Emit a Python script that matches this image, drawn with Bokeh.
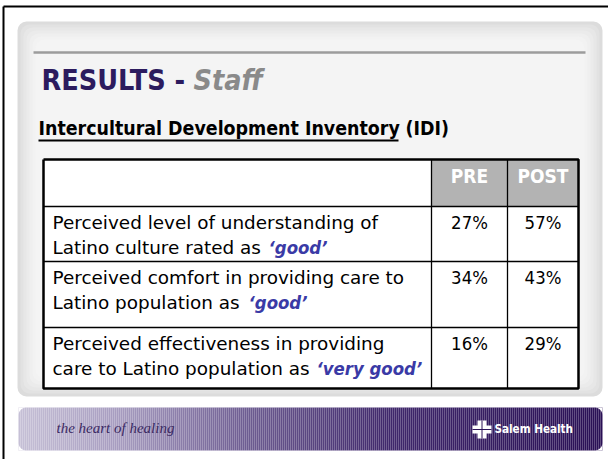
import math
from bokeh.plotting import figure
from bokeh.models import Range1d, BoxAnnotation
from bokeh.core.properties import value
from bokeh.embed import file_html
from bokeh.resources import INLINE

# ---------------- data ----------------
title_main = "RESULTS - "
title_sub = "Staff"
subtitle = "Intercultural Development Inventory"
subtitle_tail = "(IDI)"
columns = ["PRE", "POST"]
line1 = ["Perceived level of understanding of",
         "Perceived comfort in providing care to",
         "Perceived effectiveness in providing"]
line2 = ["Latino culture rated as",
         "Latino population as",
         "care to Latino population as"]
rating = ["\u2018good\u2019", "\u2018good\u2019", "\u2018very good\u2019"]
pre = [27, 34, 16]
post = [57, 43, 29]
footer_left = "the heart of healing"
footer_right = "Salem Health"

# ---------------- layout (pixel space of the slide) ----------------
FONT = "DejaVu Sans Condensed"
BODY = "DejaVu Sans"
col_x = [43, 431, 507, 578]          # table column edges
row_y = [159, 206, 261, 327, 388]    # table row edges
rating_x = [268, 248, 316]           # start of emphasised word per row


def base(y, size):
    """shift so that the text's alphabetic baseline lands on y"""
    return y - 0.4 * size


W, H = 608, 459
p = figure(width=W, height=H, x_range=Range1d(0, W), y_range=Range1d(H, 0),
           output_backend="svg", toolbar_location=None, min_border=0,
           x_axis_location=None, y_axis_location=None)
p.grid.visible = False
p.outline_line_color = None
p.background_fill_color = "white"
p.border_fill_color = "white"

# outer frame
p.line([3, 3], [459, 6], line_color="black", line_width=2)
p.line([3, 608], [6, 6], line_color="black", line_width=2)

# gray panel with soft vignette
shades = ["#dcdcdc", "#e2e2e2", "#e7e7e7", "#ebebeb", "#efefef", "#f2f2f2", "#f4f4f4"]
for i, c in enumerate(shades):
    ins = i * 3
    p.add_layout(BoxAnnotation(left=17 + ins, right=602 - ins, top=21 + ins, bottom=396 - ins,
                               fill_color=c, fill_alpha=1, line_color=None,
                               border_radius=9, level="underlay"))

# separator line
p.line([33, 585], [52, 52], line_color="#9c9c9c", line_width=2.5)

# title
TT = 28.5
p.text(x=[41], y=[base(91, TT)], text=[title_main], text_font=value(FONT), text_font_style="bold",
       text_font_size=f"{TT}px", text_color="#2c1b5e", text_baseline="alphabetic")
p.text(x=[193], y=[base(91, TT)], text=[title_sub], text_font=value(FONT),
       text_font_style="bold italic", text_font_size=f"{TT}px", text_color="#8a8a8a",
       text_baseline="alphabetic")

# subtitle
ST = 19.4
p.text(x=[38], y=[base(136, ST)], text=[subtitle], text_font=value(FONT), text_font_style="bold",
       text_font_size=f"{ST}px", text_color="black", text_baseline="alphabetic")
p.line([38, 398], [140, 140], line_color="black", line_width=2)
p.text(x=[405], y=[base(136, ST)], text=[subtitle_tail], text_font=value(FONT),
       text_font_style="bold", text_font_size=f"{ST}px", text_color="black",
       text_baseline="alphabetic")

# table background
p.quad(left=[col_x[0]], right=[col_x[3]], top=[row_y[0]], bottom=[row_y[4]],
       fill_color="white", line_color=None)
p.quad(left=col_x[1:3], right=col_x[2:4], top=[row_y[0]] * 2, bottom=[row_y[1]] * 2,
       fill_color="#b3b3b3", line_color=None)
for yy in row_y[1:4]:
    p.line([col_x[0], col_x[3]], [yy, yy], line_color="black", line_width=1.3)
for xx in col_x[1:3]:
    p.line([xx, xx], [row_y[0], row_y[4]], line_color="black", line_width=1.3)
p.line([col_x[0], col_x[3], col_x[3], col_x[0], col_x[0]],
       [row_y[0], row_y[0], row_y[4], row_y[4], row_y[0]], line_color="black", line_width=2.5)

# header labels
HT = 19
hx = [(col_x[1] + col_x[2]) / 2, (col_x[2] + col_x[3]) / 2]
p.text(x=hx, y=[base(183, HT)] * 2, text=columns, text_font=value(FONT), text_font_style="bold",
       text_font_size=f"{HT}px", text_color="white", text_align="center",
       text_baseline="alphabetic")

# rows
TS = 18.4
b1 = [base(row_y[i] + 23, TS) for i in range(1, 4)]
b2 = [b + 25 for b in b1]
p.text(x=[52] * 3, y=b1, text=line1, text_font=value(BODY), text_font_size=f"{TS}px",
       text_color="black", text_baseline="alphabetic")
p.text(x=[52] * 3, y=b2, text=line2, text_font=value(BODY), text_font_size=f"{TS}px",
       text_color="black", text_baseline="alphabetic")
p.text(x=rating_x, y=b2, text=rating, text_font=value(FONT), text_font_style="bold italic",
       text_font_size=f"{TS}px", text_color="#3a3aa6", text_baseline="alphabetic")
p.text(x=[hx[0]] * 3, y=b1, text=[f"{v}%" for v in pre], text_font=value(FONT),
       text_font_size=f"{TS}px", text_color="black", text_align="center",
       text_baseline="alphabetic")
p.text(x=[hx[1]] * 3, y=b1, text=[f"{v}%" for v in post], text_font=value(FONT),
       text_font_size=f"{TS}px", text_color="black", text_align="center",
       text_baseline="alphabetic")

# footer bar with horizontal gradient
stops = [(18, (0xc6, 0xc0, 0xd6)), (120, (0xa6, 0x9b, 0xbf)), (250, (0x6c, 0x5b, 0x90)),
         (390, (0x3f, 0x27, 0x6b)), (602, (0x2a, 0x10, 0x55))]


def grad(x):
    for (x0, c0), (x1, c1) in zip(stops[:-1], stops[1:]):
        if x0 <= x <= x1:
            t = (x - x0) / (x1 - x0)
            return "#%02x%02x%02x" % tuple(int(round(a + (b - a) * t)) for a, b in zip(c0, c1))
    return "#%02x%02x%02x" % stops[-1][1]


FL, FR, FT, FB = 18, 602, 407, 450
fl = list(range(FL, FR, 2))
p.quad(left=fl, right=[v + 2 for v in fl], top=[FT] * len(fl), bottom=[FB] * len(fl),
       fill_color=[grad(v + 1) for v in fl], line_color=None)
R = 8
for cx, cy, sx, sy in [(FL, FT, 1, 1), (FR, FT, -1, 1), (FL, FB, 1, -1), (FR, FB, -1, -1)]:
    ox, oy = cx + sx * R, cy + sy * R
    xs, ys = [cx], [cy]
    for k in range(0, 11):
        a = math.pi / 2 * k / 10
        xs.append(ox - sx * R * math.cos(a))
        ys.append(oy - sy * R * math.sin(a))
    xs.append(cx)
    ys.append(cy)
    p.patch(xs, ys, fill_color="white", line_color=None)

FT1 = 15
p.text(x=[56], y=[base(433, FT1)], text=[footer_left], text_font=value("Liberation Serif"),
       text_font_style="italic", text_font_size=f"{FT1}px", text_color="#3b2a63",
       text_baseline="alphabetic")
# logo icon
p.quad(left=[477, 472], right=[486, 491], top=[420, 425], bottom=[438, 433],
       fill_color="white", line_color=None)
p.line([472, 491], [429, 429], line_color="#2e1459", line_width=1)
p.line([481.5, 481.5], [420, 438], line_color="#2e1459", line_width=1)
FT2 = 11.6
p.text(x=[494], y=[base(433, FT2)], text=[footer_right], text_font=value(FONT),
       text_font_style="bold", text_font_size=f"{FT2}px", text_color="white",
       text_baseline="alphabetic")

open("out.html", "w").write(file_html(p, INLINE))
